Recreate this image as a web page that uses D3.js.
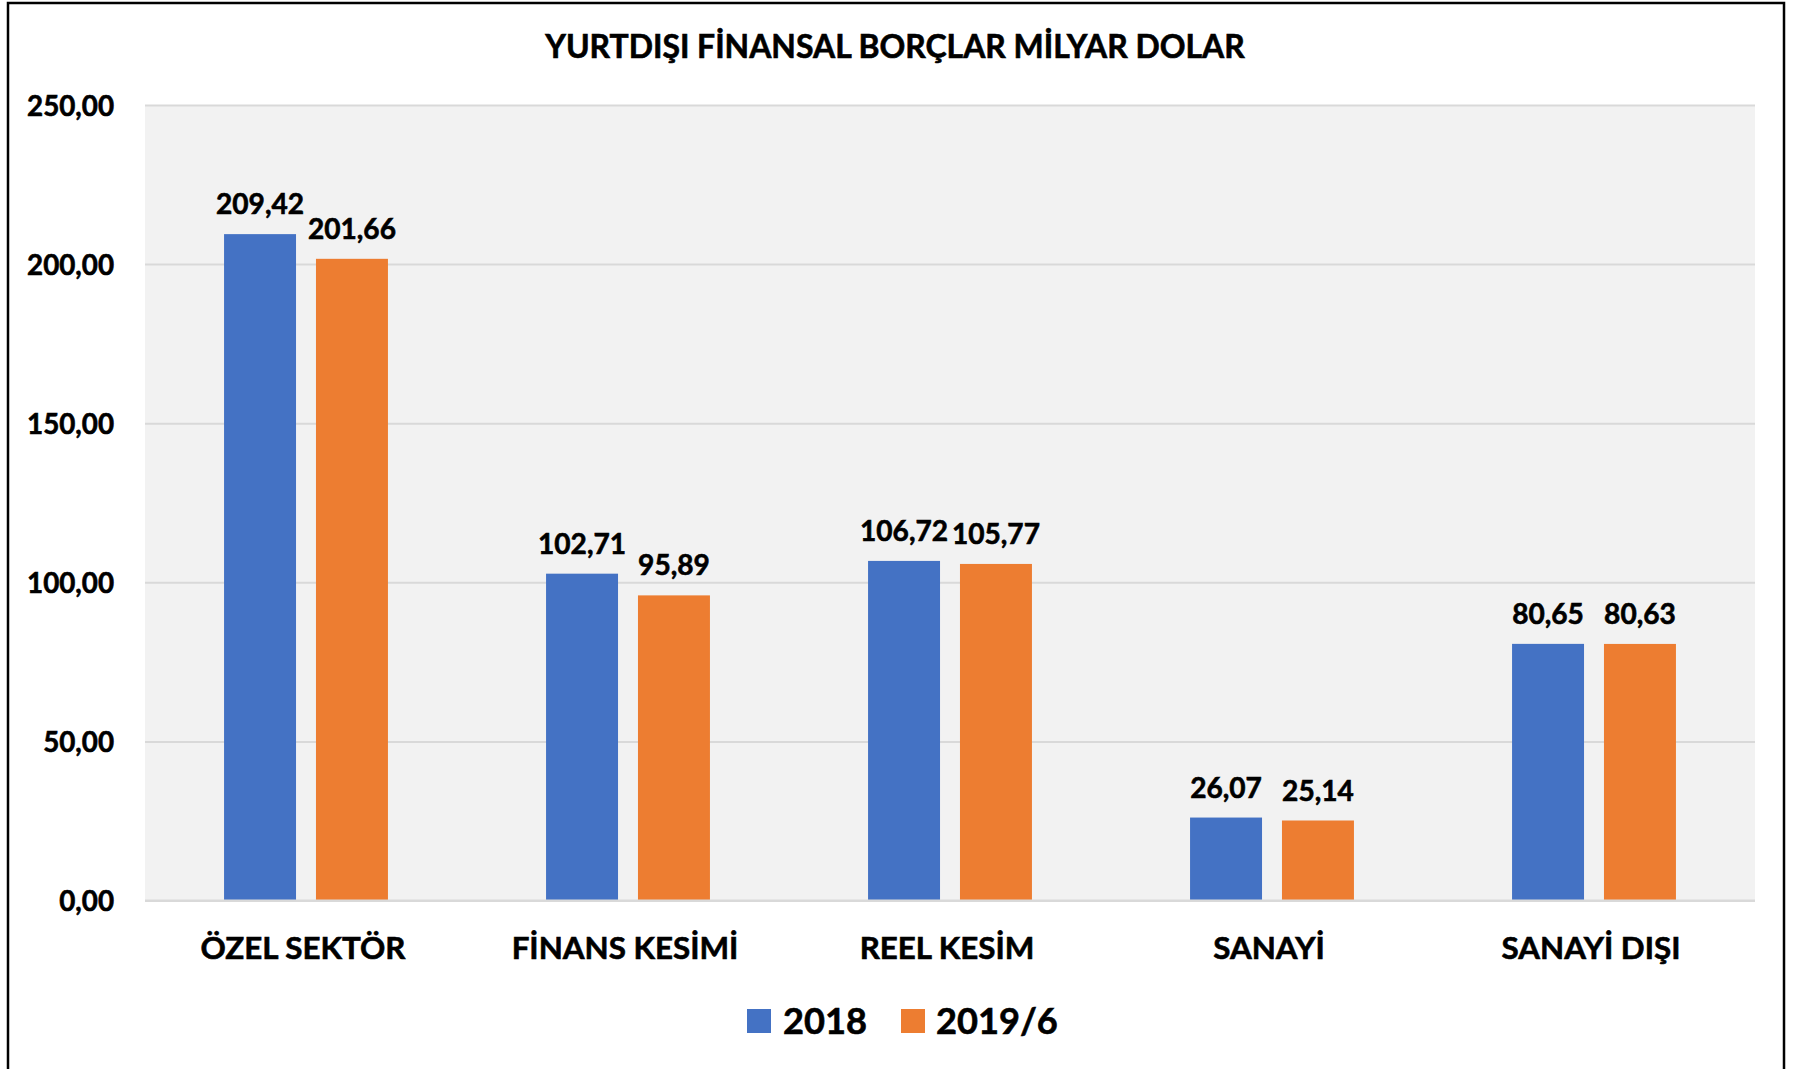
<!DOCTYPE html>
<html>
<head>
<meta charset="utf-8">
<script src="https://cdn.jsdelivr.net/npm/d3@7"></script>
<style>
  html, body { margin: 0; padding: 0; background: #ffffff; }
  svg { display: block; }
  text { font-family: Lato, "Open Sans", sans-serif; font-weight: bold; fill: #000; stroke: #000; stroke-width: 0.6px; }
</style>
</head>
<body>
<svg id="chart" width="1793" height="1069"></svg>
<script>
// ---- data ----
const title = "YURTDIŞI FİNANSAL BORÇLAR MİLYAR DOLAR";
const categories = ["ÖZEL SEKTÖR", "FİNANS KESİMİ", "REEL KESİM", "SANAYİ", "SANAYİ DIŞI"];
const seriesNames = ["2018", "2019/6"];
const values2018 = [209.42, 102.71, 106.72, 26.07, 80.65];
const values2019 = [201.66, 95.89, 105.77, 25.14, 80.63];
const yTicks = [0, 50, 100, 150, 200, 250];
const seriesColors = ["#4472C4", "#ED7D31"];

const seriesValues = [values2018, values2019];
const fmt = v => v.toFixed(2).replace(".", ",");

// ---- layout ----
const plot = { left: 145, right: 1755, top: 105, bottom: 900.5 };

const svg = d3.select("#chart");

// outer frame
svg.append("rect")
  .attr("x", 8).attr("y", 3)
  .attr("width", 1776).attr("height", 1090)
  .attr("fill", "#fff").attr("stroke", "#000").attr("stroke-width", 2.5);

// font fitting helper: scale font so text spans target width
function fitSize(str, target, probe = 100) {
  const t = svg.append("text").style("font-size", probe + "px").style("stroke", "none").text(str);
  const w = t.node().getComputedTextLength();
  t.remove();
  return probe * target / w;
}

const titleSize = fitSize(title, 700);
const tickSize = fitSize("250,00", 87);
const labelSize = fitSize("209,42", 88);
const catSize = fitSize(categories[0], 205);
const legendSize = fitSize("2018", 84);

// scales
const y = d3.scaleLinear().domain([0, 250]).range([plot.bottom, plot.top]);
const x0 = d3.scaleBand().domain(categories).range([plot.left, plot.right]).padding(0);
const x1 = d3.scaleBand().domain(seriesNames).range([0, x0.bandwidth()])
  .paddingInner(0.217).paddingOuter(0.86);

// plot background
svg.append("rect")
  .attr("x", plot.left).attr("y", plot.top)
  .attr("width", plot.right - plot.left).attr("height", plot.bottom - plot.top)
  .attr("fill", "#f2f2f2");

// gridlines + y tick labels
const yAxis = d3.axisLeft(y).tickValues(yTicks).tickSize(-(plot.right - plot.left)).tickFormat(fmt).tickPadding(31);
const gy = svg.append("g").attr("transform", `translate(${plot.left},0)`).call(yAxis);
gy.select(".domain").remove();
gy.selectAll(".tick line").attr("stroke", "#d9d9d9").attr("stroke-width", 2);
gy.selectAll(".tick text")
  .style("font-size", tickSize + "px")
  .style("font-family", "Lato, sans-serif")
  .style("font-weight", "bold")
  .attr("fill", "#000")
  .attr("dy", "0.36em");

// bars
const groups = svg.append("g").selectAll("g")
  .data(categories)
  .join("g")
  .attr("transform", d => `translate(${x0(d)},0)`);

groups.selectAll("rect")
  .data((d, i) => seriesNames.map((s, j) => ({ s, v: seriesValues[j][i], j })))
  .join("rect")
  .attr("x", d => x1(d.s))
  .attr("width", x1.bandwidth())
  .attr("y", d => y(d.v))
  .attr("height", d => y(0) - y(d.v))
  .attr("fill", d => seriesColors[d.j]);

groups.selectAll("text.lbl")
  .data((d, i) => seriesNames.map((s, j) => ({ s, v: seriesValues[j][i], j })))
  .join("text")
  .attr("class", "lbl")
  .attr("x", d => x1(d.s) + x1.bandwidth() / 2)
  .attr("y", d => y(d.v) - 20)
  .attr("text-anchor", "middle")
  .style("font-size", labelSize + "px")
  .text(d => fmt(d.v));

// x axis labels
const xAxis = d3.axisBottom(x0).tickSize(0).tickPadding(0);
const gx = svg.append("g").attr("transform", `translate(0,${plot.bottom})`).call(xAxis);
gx.select(".domain").remove();
gx.selectAll(".tick text")
  .attr("y", 0).attr("dy", 0)
  .attr("transform", "translate(-3,58)")
  .style("font-size", catSize + "px")
  .style("font-family", "Lato, sans-serif")
  .style("font-weight", "bold")
  .attr("fill", "#000");

// baseline
svg.append("line")
  .attr("x1", plot.left).attr("x2", plot.right)
  .attr("y1", y(0)).attr("y2", y(0))
  .attr("stroke", "#d9d9d9").attr("stroke-width", 2);

// title
svg.append("text")
  .attr("x", 895).attr("y", 58)
  .attr("text-anchor", "middle")
  .style("font-size", titleSize + "px")
  .text(title);

// legend
const legendItems = [
  { name: seriesNames[0], color: seriesColors[0], x: 747, tx: 783 },
  { name: seriesNames[1], color: seriesColors[1], x: 901, tx: 936 }
];
const lg = svg.append("g");
lg.selectAll("rect").data(legendItems).join("rect")
  .attr("x", d => d.x).attr("y", 1009)
  .attr("width", 24).attr("height", 24)
  .attr("fill", d => d.color);
lg.selectAll("text").data(legendItems).join("text")
  .attr("x", d => d.tx).attr("y", 1034)
  .style("font-size", legendSize + "px")
  .text(d => d.name);
</script>
</body>
</html>
